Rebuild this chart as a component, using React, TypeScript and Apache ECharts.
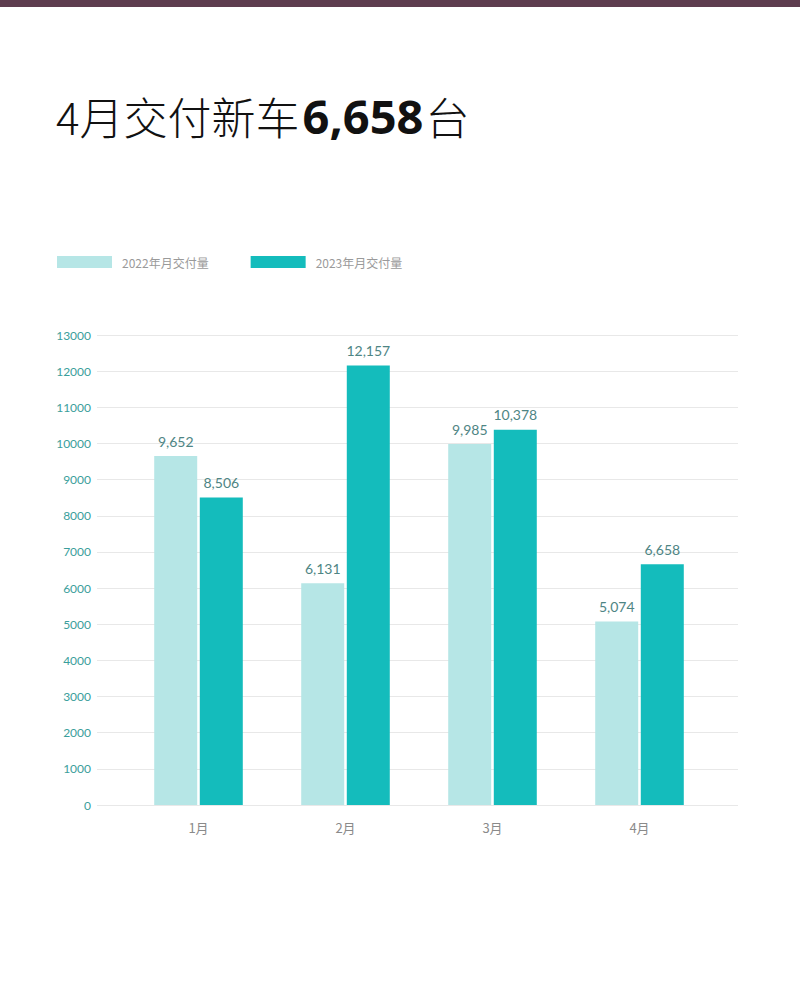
import React, { useEffect, useRef } from "react";
import * as echarts from "echarts";

const categories = ["1月", "2月", "3月", "4月"];
const series2022 = [9652, 6131, 9985, 5074];
const series2023 = [8506, 12157, 10378, 6658];
const legendNames = ["2022年月交付量", "2023年月交付量"];
const yMin = 0;
const yMax = 13000;
const yInterval = 1000;

const fmt = (v: number) => v.toLocaleString("en-US");

export default function App() {
  const ref = useRef<HTMLDivElement>(null);
  useEffect(() => {
    if (!ref.current) return;
    const chart = echarts.init(ref.current, null, { renderer: "svg" });
    const labelStyle = {
      show: true,
      position: "top" as const,
      distance: 8,
      color: "#4e8584",
      fontSize: 14,
      fontFamily: "Lato, 'Noto Sans', sans-serif",
      formatter: (p: any) => fmt(p.value),
    };
    chart.setOption({
      animation: false,
      backgroundColor: "#ffffff",
      graphic: [
        {
          type: "rect",
          left: 0,
          top: 0,
          shape: { width: 800, height: 7 },
          style: { fill: "#5e3d4f" },
        },
        {
          type: "text",
          left: 56,
          top: 92,
          style: {
            text: "{a|4月交付新车}{b|6,658}{a|台}",
            rich: {
              a: {
                fontSize: 44,
                fontFamily: "'Noto Sans CJK SC', sans-serif",
                fontWeight: 300,
                fill: "#111",
                color: "#111",
              },
              b: {
                fontSize: 47,
                fontFamily: "'Noto Sans', 'Open Sans', sans-serif",
                fontWeight: "bold",
                fill: "#111",
                color: "#111",
                padding: [0, 2, 0, 3],
              },
            },
          },
        },
      ],
      legend: {
        left: 52,
        top: 251,
        itemWidth: 55,
        itemHeight: 12,
        itemGap: 42,
        icon: "rect",
        data: legendNames,
        textStyle: {
          color: "#9a9a9a",
          fontSize: 12,
          fontFamily: "'Noto Sans CJK SC', sans-serif",
          padding: [0, 0, 0, 5],
        },
      },
      grid: [
        { left: 97, right: 62, top: 335, bottom: 191 },
        { left: 125, right: 87, top: 335, bottom: 191 },
      ],
      xAxis: [
        {
          type: "category",
          gridIndex: 0,
          data: categories,
          show: false,
        },
        {
          type: "category",
          gridIndex: 1,
          data: categories,
          axisLine: { show: false },
          axisTick: { show: false },
          axisLabel: {
            margin: 16,
            color: "#8a8a8a",
            fontSize: 13,
            fontFamily: "'Noto Sans CJK SC', sans-serif",
          },
        },
      ],
      yAxis: [
        {
          type: "value",
          gridIndex: 0,
          min: yMin,
          max: yMax,
          interval: yInterval,
          axisLine: { show: false },
          axisTick: { show: false },
          splitLine: { lineStyle: { color: "#e8e8e8", width: 1 } },
          axisLabel: {
            margin: 6,
            color: "#3a9e9b",
            fontSize: 12,
            fontFamily: "Lato, 'Noto Sans', sans-serif",
            formatter: (v: number) => String(v),
          },
        },
        {
          type: "value",
          gridIndex: 1,
          min: yMin,
          max: yMax,
          interval: yInterval,
          show: false,
          splitLine: { show: false },
        },
      ],
      series: [
        {
          name: legendNames[0],
          type: "bar",
          xAxisIndex: 1,
          yAxisIndex: 1,
          data: series2022,
          barWidth: 43,
          barGap: "6%",
          itemStyle: { color: "#b6e6e6" },
          label: labelStyle,
        },
        {
          name: legendNames[1],
          type: "bar",
          xAxisIndex: 1,
          yAxisIndex: 1,
          data: series2023,
          barWidth: 43,
          barGap: "6%",
          itemStyle: { color: "#14bcbc" },
          label: labelStyle,
        },
      ],
    });
    return () => chart.dispose();
  }, []);
  return (
    <div
      ref={ref}
      style={{ position: "absolute", left: 0, top: 0, width: 800, height: 996 }}
    />
  );
}
